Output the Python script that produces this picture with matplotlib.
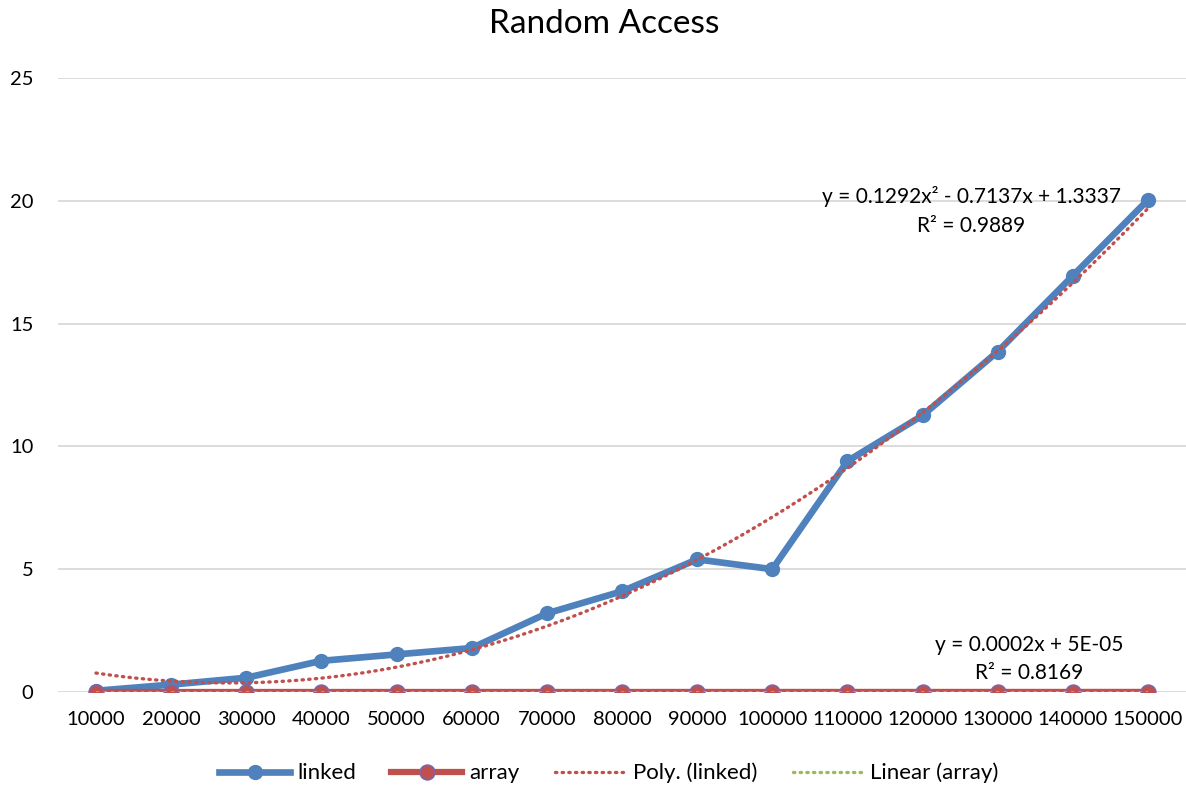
import numpy as np
import matplotlib
matplotlib.use("Agg")
import matplotlib.pyplot as plt
from matplotlib.lines import Line2D

plt.rcParams['font.family'] = ['Lato', 'DejaVu Sans']

categories = ["10000", "20000", "30000", "40000", "50000", "60000", "70000", "80000",
              "90000", "100000", "110000", "120000", "130000", "140000", "150000"]
linked = [0.05, 0.3, 0.58, 1.27, 1.53, 1.79, 3.2, 4.1, 5.4, 5.0, 9.4, 11.26, 13.86, 16.95, 20.04]
array = [0.0003, 0.0005, 0.0007, 0.0009, 0.001, 0.0012, 0.0015, 0.0016, 0.0019, 0.002,
         0.0022, 0.0024, 0.0026, 0.0028, 0.003]
title = "Random Access"
poly_label = "y = 0.1292x\u00b2 - 0.7137x + 1.3337\nR\u00b2 = 0.9889"
lin_label = "y = 0.0002x + 5E-05\nR\u00b2 = 0.8169"

BLUE = "#4F81BD"
RED = "#C0504D"
PURPLE = "#8064A2"
GREEN = "#9BBB59"
GRID = "#D9D9D9"

W, H = 1186, 789
fig = plt.figure(figsize=(W / 100, H / 100), dpi=100)
ax = fig.add_axes([58.4 / W, 1 - 692 / H, (1185.6 - 58.4) / W, (692 - 78) / H])

pos = np.arange(len(categories))
xs = pos + 1  # Excel trendline x = 1..n

# trendlines
pc = np.polyfit(xs, linked, 2)
fx = np.linspace(xs[0], xs[-1], 300)
lc = np.polyfit(xs, array, 1)

ax.plot(pos, linked, color=BLUE, lw=4.8, marker='o', ms=10, mfc=BLUE, mec=BLUE,
        solid_capstyle='round', zorder=3)
ax.plot(pos, array, color=RED, lw=4.5, marker='o', ms=10.5, mfc=RED, mec=PURPLE, mew=1.3,
        zorder=3)
ax.plot(fx - 1, np.polyval(pc, fx), color=RED, lw=2.4, ls=(0, (0.4, 1.6)),
        dash_capstyle='round', zorder=4)
ax.plot(fx - 1, np.polyval(lc, fx), color=GREEN, lw=1.2, ls=(0, (2, 2.5)), zorder=4)

ax.set_xlim(-0.5, len(categories) - 0.5)
ax.set_ylim(0, 25)
ax.set_yticks([0, 5, 10, 15, 20, 25])
ax.set_xticks(pos)
ax.set_xticklabels(categories)
ax.yaxis.grid(True, color=GRID, lw=1.3)
ax.set_axisbelow(True)
for s in ax.spines.values():
    s.set_visible(False)
ax.tick_params(axis='both', length=0, labelsize=14.5, colors='black')
ax.tick_params(axis='x', pad=14)
ax.tick_params(axis='y', pad=18)

fig.text(604 / W, 1 - 24 / H, title, ha='center', va='center', fontsize=24)

fig.text(971 / W, 1 - 211 / H, poly_label, ha='center', va='center', fontsize=15,
         linespacing=1.55)
fig.text(1029 / W, 1 - 659 / H, lin_label, ha='center', va='center', fontsize=15,
         linespacing=1.55)

handles = [
    Line2D([], [], color=BLUE, lw=4.8, marker='o', ms=10, mfc=BLUE, mec=BLUE),
    Line2D([], [], color=RED, lw=4.5, marker='o', ms=10.5, mfc=RED, mec=PURPLE, mew=1.3),
    Line2D([], [], color=RED, lw=2.4, ls=(0, (0.4, 1.6)), dash_capstyle='round'),
    Line2D([], [], color=GREEN, lw=2.4, ls=(0, (0.4, 1.6)), dash_capstyle='round'),
]
labels = ["linked", "array", "Poly. (linked)", "Linear (array)"]
fig.legend(handles, labels, loc='center', bbox_to_anchor=(609 / W, 1 - 773 / H),
           ncol=4, frameon=False, fontsize=16, handlelength=3.2, handletextpad=0.3,
           columnspacing=1.6)

fig.savefig("out.png", dpi=100)
